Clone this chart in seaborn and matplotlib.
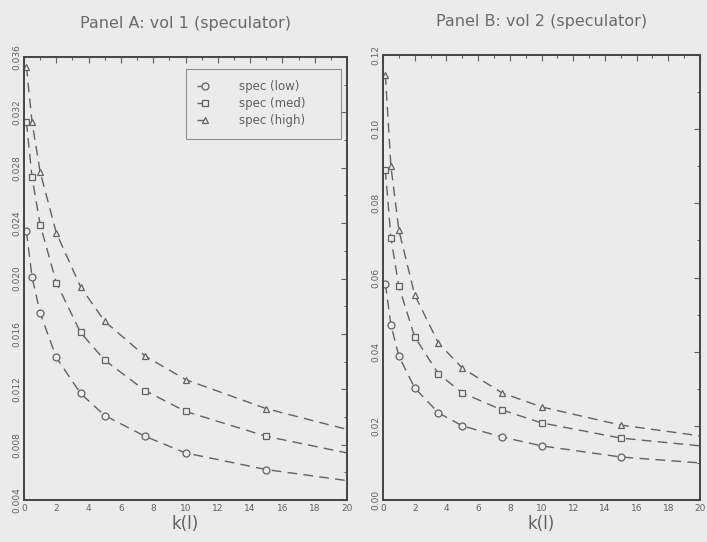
import numpy as np
import pandas as pd
import matplotlib
matplotlib.use("Agg")
import matplotlib.pyplot as plt
import seaborn as sns
from matplotlib.ticker import MultipleLocator, FormatStrFormatter

# ---- data ----
k_values = [0.15, 0.5, 1, 2, 3.5, 5, 7.5, 10, 15, 20]
series_names = ["spec (low)", "spec (med)", "spec (high)"]

vol1_low = [0.0234, 0.0201, 0.0175, 0.0143, 0.0117, 0.0101, 0.0086, 0.0074, 0.0062, 0.0054]
vol1_med = [0.0313, 0.0273, 0.0239, 0.0197, 0.0161, 0.0141, 0.0119, 0.0104, 0.0086, 0.0074]
vol1_high = [0.0353, 0.0313, 0.0277, 0.0233, 0.0194, 0.0169, 0.0144, 0.0127, 0.0106, 0.0091]

vol2_low = [0.0583, 0.0472, 0.0388, 0.0302, 0.0235, 0.0200, 0.0170, 0.0146, 0.0116, 0.0100]
vol2_med = [0.0890, 0.0707, 0.0576, 0.0440, 0.0340, 0.0289, 0.0243, 0.0208, 0.0167, 0.0146]
vol2_high = [0.1146, 0.0900, 0.0728, 0.0553, 0.0423, 0.0356, 0.0289, 0.0251, 0.0202, 0.0173]

titles = ["Panel A: vol 1 (speculator)", "Panel B: vol 2 (speculator)"]
xlabel = "k(l)"


def make_df(low, med, high):
    rows = []
    for name, vals in zip(series_names, [low, med, high]):
        for kk, v in zip(k_values, vals):
            rows.append({"k": kk, "value": v, "series": name})
    return pd.DataFrame(rows)


df1 = make_df(vol1_low, vol1_med, vol1_high)
df2 = make_df(vol2_low, vol2_med, vol2_high)

bg = "#ebebeb"
ink = "#606060"
line_c = "#626262"
sns.set_theme(style="white")
plt.rcParams["font.family"] = ["DejaVu Sans"]

fig = plt.figure(figsize=(7.07, 5.42), dpi=100, facecolor=bg)
axA = fig.add_axes([24 / 707, 1 - 500 / 542, 323 / 707, 443 / 542])
axB = fig.add_axes([383 / 707, 1 - 500 / 542, 317 / 707, 445 / 542])

markers = {"spec (low)": "o", "spec (med)": "s", "spec (high)": "^"}
dashes = {n: (7, 4.5) for n in series_names}
palette = {n: line_c for n in series_names}

for ax, df, title, ylim, ystep, yfmt in [
    (axA, df1, titles[0], (0.004, 0.036), 0.004, "%.3f"),
    (axB, df2, titles[1], (0.0, 0.12), 0.02, "%.2f"),
]:
    ax.set_facecolor(bg)
    sns.lineplot(
        data=df, x="k", y="value", hue="series", style="series",
        markers=markers, dashes=dashes, palette=palette, ax=ax,
        linewidth=1.0, markersize=5, markerfacecolor=bg,
        markeredgecolor=line_c, markeredgewidth=0.9,
        markevery=list(range(len(k_values) - 1)),
        legend=(ax is axA),
    )
    ax.set_xlim(0, 20)
    ax.set_ylim(*ylim)
    ax.xaxis.set_major_locator(MultipleLocator(2))
    ax.xaxis.set_minor_locator(MultipleLocator(1))
    ax.yaxis.set_major_locator(MultipleLocator(ystep))
    ax.yaxis.set_minor_locator(MultipleLocator(ystep / 2))
    ax.yaxis.set_major_formatter(FormatStrFormatter(yfmt))
    ax.tick_params(axis="both", which="both", direction="in", top=True, right=True,
                   colors=ink, labelcolor=ink, labelsize=6.5, width=0.8)
    ax.tick_params(which="major", length=4)
    ax.tick_params(which="minor", length=2)
    for lab in ax.get_yticklabels():
        lab.set_rotation(90)
        lab.set_va("center")
    ax.tick_params(axis="y", pad=2)
    ax.tick_params(axis="x", pad=3)
    for sp in ax.spines.values():
        sp.set_visible(True)
        sp.set_color("#444444")
        sp.set_linewidth(1.4)
    ax.set_xlabel(xlabel, fontsize=12, color=ink, labelpad=1)
    ax.set_ylabel("")
    ax.set_title(title, fontsize=11.5, color="#6a6a6a", pad=21)

leg = axA.get_legend()
handles, labels = axA.get_legend_handles_labels()
leg.remove()
x0 = (186 - 24) / 323
y1 = 1 - (69 - 57) / 443
w = (341 - 186) / 323
h = (139 - 69) / 443
leg = axA.legend(handles, labels, loc="upper left", mode="expand",
                 bbox_to_anchor=(x0, y1 - h, w, h),
                 frameon=True, fancybox=False, fontsize=8.5, handlelength=1.3,
                 labelcolor=ink, borderpad=0.95, labelspacing=0.35,
                 handletextpad=2.2, borderaxespad=0)
leg.get_frame().set_edgecolor("#777777")
leg.get_frame().set_facecolor(bg)
leg.get_frame().set_linewidth(0.8)

fig.savefig("out.png", dpi=100, facecolor=bg)
